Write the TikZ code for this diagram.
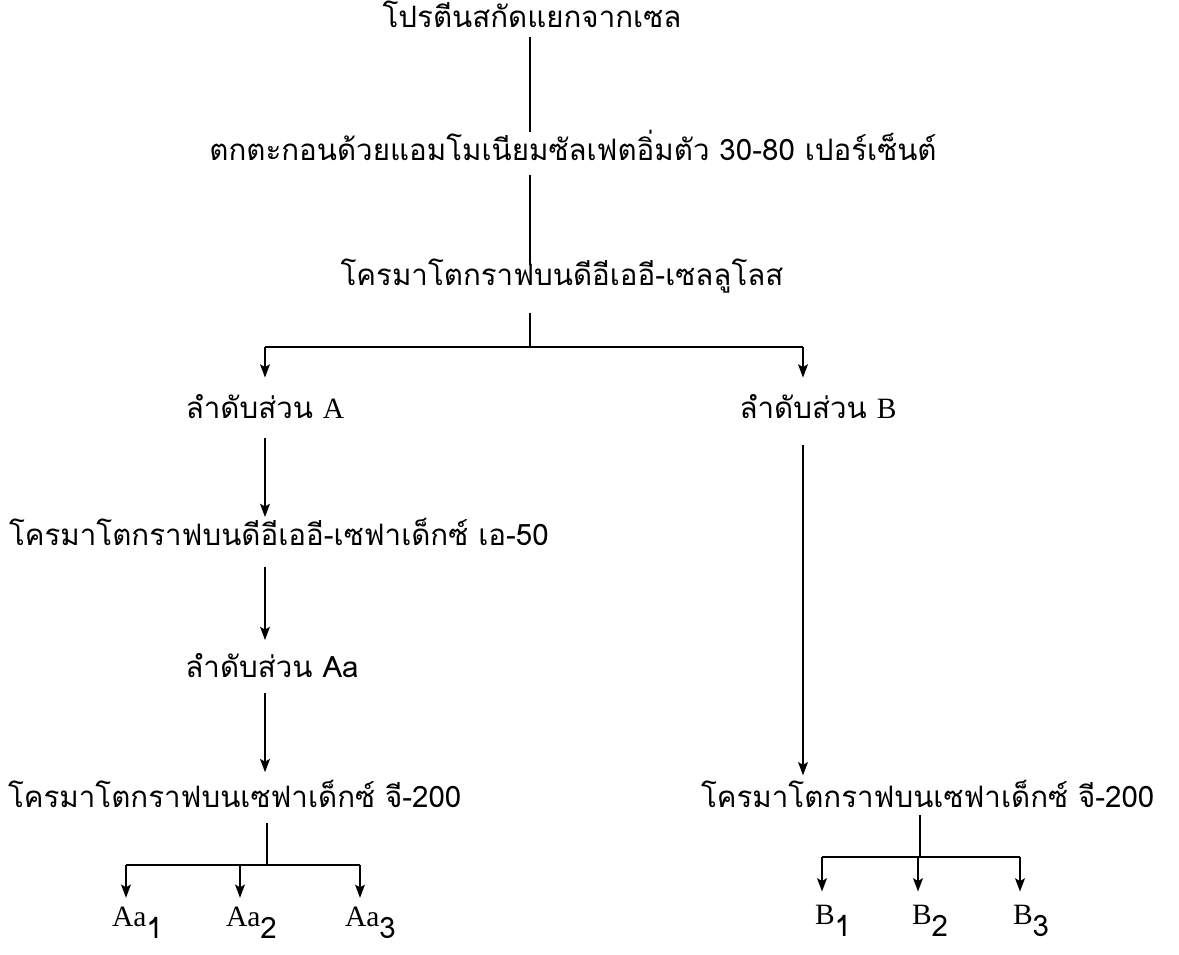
\documentclass[tikz,border=0pt]{standalone}
\usepackage{fontspec}
\setmainfont{Liberation Serif}
\newfontfamily\thai[Script=Thai]{Loma}
\newfontfamily\lat{Liberation Serif}
\usetikzlibrary{arrows.meta}
\newlength\gw
\begin{document}
\settowidth\gw{\thai\fontsize{10pt}{12pt}\selectfont โครมาโตกราฟบนเซฟาเด็กซ์ จี-200}%
\pgfmathsetmacro\fsz{10*258/\the\gw}%
\def\tf{\thai\fontsize{\fsz pt}{\fsz pt}\selectfont}%
\begin{tikzpicture}[x=0.02cm,y=-0.02cm,line width=1.2pt,
  lbl/.style={inner sep=0pt,text height=0pt,text depth=0pt,anchor=base,font=\tf},
  arr/.style={-{Stealth[length=7.5pt,width=5.5pt,inset=1.5pt]}},
  sub/.style={inner sep=0pt,anchor=base,font=\tf}]
\useasboundingbox (0,0) rectangle (1179,954);
% nodes
\node[lbl] (t1) at (532,27) {โปรตีนสกัดแยกจากเซล};
\node[lbl] (t2) at (573,160) {ตกตะกอนด้วยแอมโมเนียมซัลเฟตอิ่มตัว 30-80 เปอร์เซ็นต์};
\node[lbl] (t3) at (562,285) {โครมาโตกราฟบนดีอีเออี-เซลลูโลส};
\coordinate (j1) at (530,347);
\coordinate (jl) at (265,347);
\coordinate (jr) at (803,347);
\node[lbl] (tA) at (265,418) {ลำดับส่วน {\lat A}};
\node[lbl] (tB) at (818,418) {ลำดับส่วน {\lat B}};
\node[lbl,anchor=base west] (tA50) at (8,545) {โครมาโตกราฟบนดีอีเออี-เซฟาเด็กซ์ เอ-50};
\node[lbl] (tAa) at (272,677) {ลำดับส่วน Aa};
\node[lbl,anchor=base west] (tGL) at (7,807) {โครมาโตกราฟบนเซฟาเด็กซ์ จี-200};
\node[lbl,anchor=base west] (tGR) at (700,807) {โครมาโตกราฟบนเซฟาเด็กซ์ จี-200};
\coordinate (kl) at (267,865);
\coordinate (kl1) at (126,865);
\coordinate (kl2) at (240,865);
\coordinate (kl3) at (360,865);
\coordinate (kr) at (920,857);
\coordinate (kr1) at (822,857);
\coordinate (kr2) at (918,857);
\coordinate (kr3) at (1020,857);
\node[sub,anchor=base west] (a1) at (111,926) {{\lat Aa}\raisebox{-7pt}{1}};
\node[sub,anchor=base west] (a2) at (225,926) {{\lat Aa}\raisebox{-7pt}{2}};
\node[sub,anchor=base west] (a3) at (344,926) {{\lat Aa}\raisebox{-7pt}{3}};
\node[sub,anchor=base west] (b1) at (814,924) {{\lat B}\raisebox{-7pt}{1}};
\node[sub,anchor=base west] (b2) at (911,924) {{\lat B}\raisebox{-7pt}{2}};
\node[sub,anchor=base west] (b3) at (1012,924) {{\lat B}\raisebox{-7pt}{3}};
% connectors
\draw[shorten <=5.7pt,shorten >=15.9pt] (t1 -| j1) -- (t2 -| j1);
\draw[shorten <=8.5pt,shorten >=11.3pt] (t2 -| j1) -- (t3 -| j1);
\draw[shorten <=15.9pt] (t3 -| j1) -- (j1);
\draw (jl) -- (jr);
\draw[arr,shorten >=23pt] (jl) -- (jl |- tA);
\draw[arr,shorten >=23pt] (jr) -- (jr |- tB);
\draw[arr,shorten <=11.3pt,shorten >=15.9pt] (tA -| jl) -- (tA50 -| jl);
\draw[arr,shorten <=12.5pt,shorten >=21pt] (tA50 -| jl) -- (tAa -| jl);
\draw[arr,shorten <=9.1pt,shorten >=19.8pt] (tAa -| jl) -- (tGL -| jl);
\draw[shorten <=9.1pt] (tGL -| kl) -- (kl);
\draw (kl1) -- (kl3);
\draw[arr,shorten >=14pt] (kl1) -- (kl1 |- a1);
\draw[arr,shorten >=14pt] (kl2) -- (kl2 |- a2);
\draw[arr,shorten >=14pt] (kl3) -- (kl3 |- a3);
\draw[arr,shorten <=15.3pt,shorten >=18pt] (tB -| jr) -- (tGR -| jr);
\draw[shorten <=4.5pt] (tGR -| kr) -- (kr);
\draw (kr1) -- (kr3);
\draw[arr,shorten >=16.5pt] (kr1) -- (kr1 |- b1);
\draw[arr,shorten >=16.5pt] (kr2) -- (kr2 |- b2);
\draw[arr,shorten >=16.5pt] (kr3) -- (kr3 |- b3);
\end{tikzpicture}
\end{document}
